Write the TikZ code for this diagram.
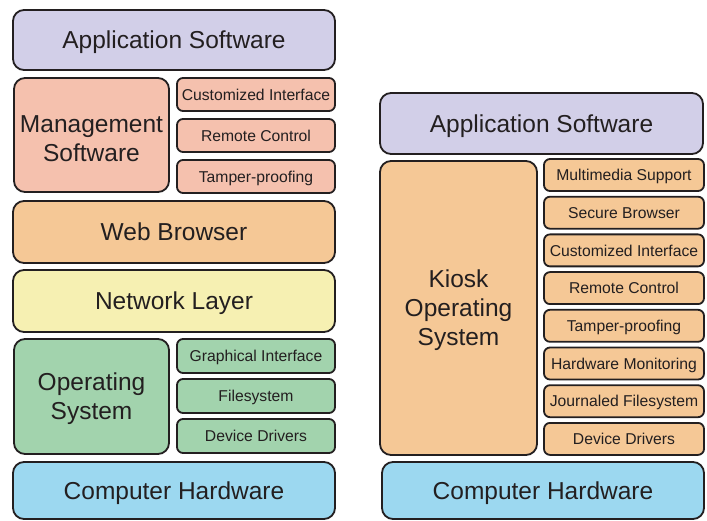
\documentclass[tikz,border=0pt]{standalone}
\usepackage{fontspec}
\setmainfont{Liberation Sans}
\usetikzlibrary{positioning}

\definecolor{ink}{HTML}{231F20}
\definecolor{appcol}{HTML}{D2CFE8}
\definecolor{mgmtcol}{HTML}{F5C1AE}
\definecolor{webcol}{HTML}{F5C896}
\definecolor{netcol}{HTML}{F6F0B2}
\definecolor{oscol}{HTML}{A2D3AD}
\definecolor{hwcol}{HTML}{9CD8F0}

\tikzset{
  layer/.style={draw=ink, line width=1.8pt, rounded corners=11pt, text=ink, text depth=0pt,
    font=\fontsize{24.5}{29}\selectfont, align=center, inner sep=0pt, outer sep=0pt},
  part/.style={draw=ink, line width=1.8pt, rounded corners=6pt, text=ink, text depth=0pt,
    font=\fontsize{15.7}{18}\selectfont, inner sep=0pt, outer sep=0pt},
  partL/.style={part, minimum width=158pt, minimum height=33pt},
  partR/.style={part, fill=webcol, minimum width=160pt, minimum height=32pt},
}

\begin{document}
\begin{tikzpicture}[x=1pt,y=-1pt]
  \useasboundingbox (0,0) rectangle (707,521);
  % Tell it where the left stack is
  \node (appL) [layer, fill=appcol, minimum width=322pt, minimum height=60pt] at (174,40) {Application Software};
  \node (mgmt) [layer, fill=mgmtcol, minimum width=155pt, minimum height=114pt] at (91.5,135) {\\[-4pt]Management\\Software};
  \node (ciL) [partL, fill=mgmtcol] at (256,94.5) {Customized Interface};
  \node (rcL) [partL, fill=mgmtcol, below=8pt of ciL] {Remote Control};
  \node (tpL) [partL, fill=mgmtcol, below=8pt of rcL] {Tamper-proofing};
  \node (web) [layer, fill=webcol, minimum width=322pt, minimum height=62pt] at (174,232) {Web Browser};
  \node (net) [layer, fill=netcol, minimum width=322pt, minimum height=62pt] at (174,301) {Network Layer};
  \node (os) [layer, fill=oscol, minimum width=155pt, minimum height=115pt] at (91.5,396.5) {Operating\\System};
  \node (gi) [partL, fill=oscol, minimum height=34pt] at (256,356) {Graphical Interface};
  \node (fs) [partL, fill=oscol, minimum height=34pt, below=6pt of gi] {Filesystem};
  \node (ddL) [partL, fill=oscol, minimum height=34pt, below=6pt of fs] {Device Drivers};
  \node (hwL) [layer, fill=hwcol, minimum width=322pt, minimum height=57pt] at (174,490.5) {Computer Hardware};
  % Tell it where the right stack is
  \node (appR) [layer, fill=appcol, minimum width=323pt, minimum height=61pt] at (541.5,123.5) {Application Software};
  \node (kiosk) [layer, fill=webcol, minimum width=157pt, minimum height=294pt] at (458.5,308) {Kiosk\\Operating\\System};
  \node (ms) [partR] at (624,175) {Multimedia Support};
  \node (sb) [partR, below=5.7pt of ms] {Secure Browser};
  \node (ciR) [partR, below=5.7pt of sb] {Customized Interface};
  \node (rcR) [partR, below=5.7pt of ciR] {Remote Control};
  \node (tpR) [partR, below=5.7pt of rcR] {Tamper-proofing};
  \node (hm) [partR, below=5.7pt of tpR] {Hardware Monitoring};
  \node (jf) [partR, below=5.7pt of hm] {Journaled Filesystem};
  \node (ddR) [partR, below=5.7pt of jf] {Device Drivers};
  \node (hwR) [layer, fill=hwcol, minimum width=322pt, minimum height=57pt] at (543,490.5) {Computer Hardware};
\end{tikzpicture}
\end{document}
